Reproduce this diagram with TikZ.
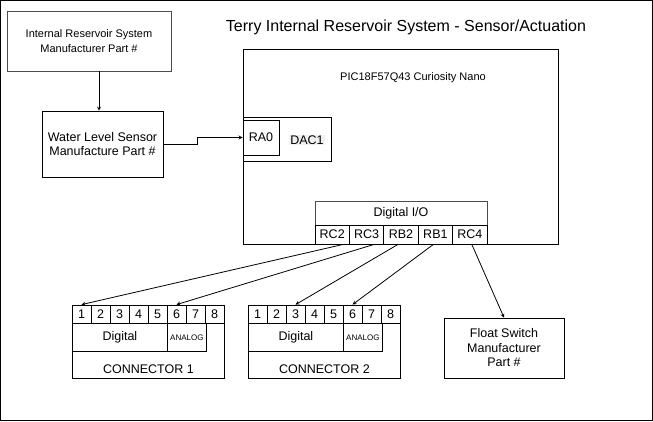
\documentclass[tikz,border=0pt]{standalone}
\usepackage{fontspec}
\setmainfont{Liberation Sans}
\usetikzlibrary{shapes,arrows,positioning}
\tikzstyle{box}=[draw, line width=0.8pt, inner sep=1pt, align=center, font=\fontsize{12.5}{14.5}\selectfont]
\tikzstyle{box-grey}=[box, draw=black!70]
\tikzstyle{box-pin}=[box, minimum width=19, minimum height=18]
\tikzstyle{box-port}=[box, minimum width=34.4, minimum height=19]
\tikzstyle{small}=[font=\fontsize{11}{14.5}\selectfont]
\tikzstyle{wire}=[->, >=stealth, line width=0.8pt]

\begin{document}
\begin{tikzpicture}[x=1pt, y=-1pt]
	\useasboundingbox (0,0) rectangle (653,421);
	\draw[line width=0.8pt] (0.5,0.5) rectangle (652.5,420.5);
	% nodes
	\node[font=\fontsize{16}{18}\selectfont] (title) at (406,27) {Terry Internal Reservoir System - Sensor/Actuation};
	\node[box-grey, small, minimum width=164, minimum height=60] (resv) at (89,41) {Internal Reservoir System\\Manufacturer Part \#};
	\node[box, minimum width=121, minimum height=66] (wls) at (102.5,144) {Water Level Sensor\\Manufacture Part \#};
	\node[box, minimum width=315, minimum height=195] (pic) at (400.5,146.5) {};
	\node[small] (picname) at (413,78) {PIC18F57Q43 Curiosity Nano};
	\node[box, minimum width=88, minimum height=44] (dac) at (287,139) {};
	\node[fill=black!6, inner sep=1pt, font=\fontsize{12.5}{14.5}\selectfont] (daclabel) at (307,140) {DAC1};
	\node[box, minimum width=36, minimum height=35] (ra0) at (261,137.5) {RA0};
	\node[box-grey, minimum width=172, minimum height=43] (dio) at (401,222.5) {};
	\node[font=\fontsize{12.5}{14.5}\selectfont] (diolabel) at (401,213) {Digital I/O};
	\foreach \p/\n [count=\i] in {RC2/rc2,RC3/rc3,RB2/rb2,RB1/rb1,RC4/rc4}
		\node[box-port] (\n) at (297.8+34.4*\i,234.5) {\p};

	\foreach \c/\x in {1/72,2/248} {
		\foreach \i in {1,...,8}
			\node[box-pin] (c\c-\i) at (\x+19*\i-9.5,314) {\i};
		\node[box, minimum width=152, minimum height=55, anchor=north west] (con\c) at (\x,323) {};
		\node[box, minimum width=95, minimum height=28, anchor=north west] (dig\c) at (\x,323) {Digital};
		\node[box, minimum width=39, minimum height=28, anchor=north west, font=\fontsize{8}{9}\selectfont] (ana\c) at (\x+95,323) {ANALOG};
		\node[font=\fontsize{12.5}{14.5}\selectfont, above=2pt of con\c.south] (conname\c) {CONNECTOR \c};
	}

	\node[box, minimum width=120, minimum height=60] (flt) at (504,348) {Float Switch\\Manufacturer\\Part \#};

	% arrows
	\draw[wire] ([xshift=10]resv.south) -- ([xshift=-3.5]wls.north);
	\draw[wire] (wls.east) -- ++(34,0) |- (ra0.west);
	\draw[wire] ([xshift=11]rc2.south) -- (c1-1.north);
	\draw[wire] ([xshift=7.5]rc3.south) -- (c1-6.north);
	\draw[wire] ([xshift=-3]rb2.south) -- (c2-3.north);
	\draw[wire] ([xshift=-2]rb1.south) -- (c2-6.north);
	\draw[wire] ([xshift=2]rc4.south) -- (flt.north);
\end{tikzpicture}
\end{document}
